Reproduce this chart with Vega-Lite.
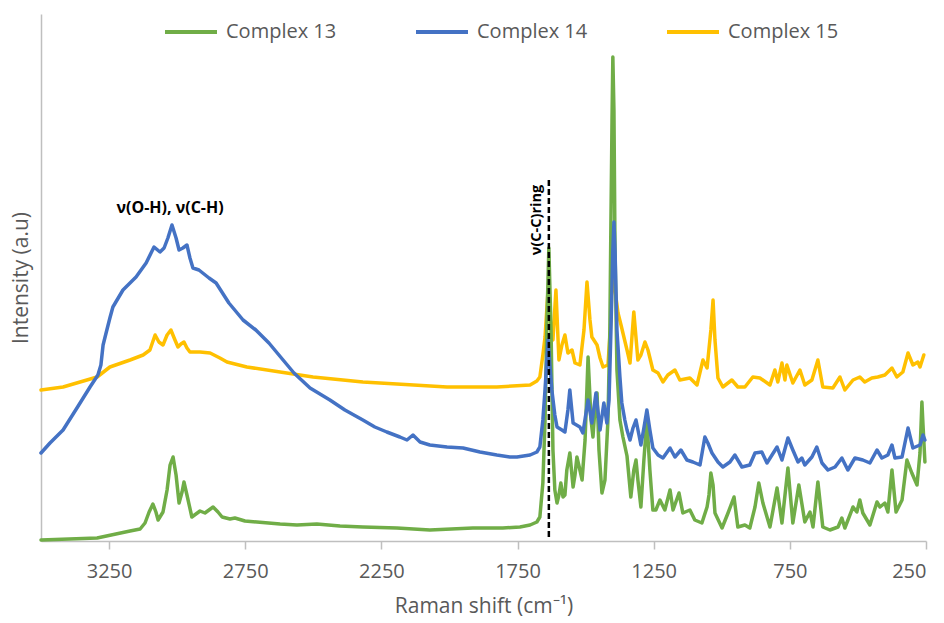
{
  "$schema": "https://vega.github.io/schema/vega-lite/v6.json",
  "width": 885,
  "height": 527,
  "autosize": {"type": "none"},
  "padding": {"left": 41, "top": 14, "right": 18, "bottom": 82},
  "background": "white",
  "config": {
    "view": {"stroke": null},
    "font": "Open Sans",
    "axis": {"labelFont": "Open Sans", "titleFont": "Open Sans", "grid": false},
    "legend": {"labelFont": "Open Sans"}
  },
  "datasets": {
    "c13": [
      {"shift": 3500, "intensity": 1}, {"shift": 3294, "intensity": 3}, {"shift": 3173, "intensity": 10},
      {"shift": 3136, "intensity": 12}, {"shift": 3118, "intensity": 18}, {"shift": 3103, "intensity": 29},
      {"shift": 3089, "intensity": 37}, {"shift": 3078, "intensity": 29}, {"shift": 3070, "intensity": 21},
      {"shift": 3052, "intensity": 29}, {"shift": 3037, "intensity": 51}, {"shift": 3026, "intensity": 76},
      {"shift": 3015, "intensity": 84}, {"shift": 3004, "intensity": 66}, {"shift": 2993, "intensity": 38},
      {"shift": 2982, "intensity": 49}, {"shift": 2975, "intensity": 59}, {"shift": 2964, "intensity": 46},
      {"shift": 2946, "intensity": 24}, {"shift": 2931, "intensity": 27}, {"shift": 2916, "intensity": 30},
      {"shift": 2898, "intensity": 28}, {"shift": 2883, "intensity": 31}, {"shift": 2868, "intensity": 34},
      {"shift": 2850, "intensity": 29}, {"shift": 2835, "intensity": 24}, {"shift": 2806, "intensity": 22},
      {"shift": 2788, "intensity": 23}, {"shift": 2751, "intensity": 20}, {"shift": 2707, "intensity": 19},
      {"shift": 2622, "intensity": 17}, {"shift": 2560, "intensity": 16}, {"shift": 2487, "intensity": 17},
      {"shift": 2402, "intensity": 15}, {"shift": 2318, "intensity": 14}, {"shift": 2193, "intensity": 13},
      {"shift": 2072, "intensity": 11}, {"shift": 1914, "intensity": 13}, {"shift": 1804, "intensity": 13},
      {"shift": 1741, "intensity": 14}, {"shift": 1704, "intensity": 16}, {"shift": 1679, "intensity": 19},
      {"shift": 1668, "intensity": 24}, {"shift": 1657, "intensity": 58}, {"shift": 1649, "intensity": 121},
      {"shift": 1642, "intensity": 221}, {"shift": 1635, "intensity": 293}, {"shift": 1627, "intensity": 211},
      {"shift": 1620, "intensity": 91}, {"shift": 1613, "intensity": 51}, {"shift": 1605, "intensity": 38},
      {"shift": 1598, "intensity": 46}, {"shift": 1591, "intensity": 58}, {"shift": 1583, "intensity": 44},
      {"shift": 1576, "intensity": 46}, {"shift": 1569, "intensity": 71}, {"shift": 1558, "intensity": 88},
      {"shift": 1546, "intensity": 54}, {"shift": 1539, "intensity": 66}, {"shift": 1532, "intensity": 84},
      {"shift": 1521, "intensity": 71}, {"shift": 1513, "intensity": 61}, {"shift": 1502, "intensity": 101},
      {"shift": 1491, "intensity": 184}, {"shift": 1480, "intensity": 121}, {"shift": 1473, "intensity": 104},
      {"shift": 1466, "intensity": 131}, {"shift": 1458, "intensity": 148}, {"shift": 1451, "intensity": 91},
      {"shift": 1440, "intensity": 48}, {"shift": 1429, "intensity": 61}, {"shift": 1418, "intensity": 121},
      {"shift": 1411, "intensity": 211}, {"shift": 1407, "intensity": 321}, {"shift": 1403, "intensity": 421},
      {"shift": 1400, "intensity": 484}, {"shift": 1396, "intensity": 431}, {"shift": 1392, "intensity": 291},
      {"shift": 1385, "intensity": 171}, {"shift": 1374, "intensity": 121}, {"shift": 1363, "intensity": 104},
      {"shift": 1348, "intensity": 85}, {"shift": 1334, "intensity": 44}, {"shift": 1323, "intensity": 71},
      {"shift": 1315, "intensity": 81}, {"shift": 1308, "intensity": 61}, {"shift": 1297, "intensity": 34},
      {"shift": 1286, "intensity": 81}, {"shift": 1275, "intensity": 121}, {"shift": 1264, "intensity": 71},
      {"shift": 1253, "intensity": 31}, {"shift": 1242, "intensity": 31}, {"shift": 1227, "intensity": 41},
      {"shift": 1209, "intensity": 31}, {"shift": 1190, "intensity": 51}, {"shift": 1179, "intensity": 31},
      {"shift": 1157, "intensity": 48}, {"shift": 1143, "intensity": 28}, {"shift": 1117, "intensity": 31},
      {"shift": 1099, "intensity": 21}, {"shift": 1073, "intensity": 18}, {"shift": 1054, "intensity": 34},
      {"shift": 1047, "intensity": 46}, {"shift": 1040, "intensity": 68}, {"shift": 1032, "intensity": 56},
      {"shift": 1025, "intensity": 28}, {"shift": 999, "intensity": 13}, {"shift": 977, "intensity": 28},
      {"shift": 955, "intensity": 44}, {"shift": 941, "intensity": 14}, {"shift": 915, "intensity": 16},
      {"shift": 897, "intensity": 13}, {"shift": 878, "intensity": 34}, {"shift": 864, "intensity": 58},
      {"shift": 849, "intensity": 38}, {"shift": 823, "intensity": 14}, {"shift": 797, "intensity": 53},
      {"shift": 779, "intensity": 18}, {"shift": 757, "intensity": 73}, {"shift": 739, "intensity": 18},
      {"shift": 717, "intensity": 56}, {"shift": 695, "intensity": 19}, {"shift": 676, "intensity": 29},
      {"shift": 665, "intensity": 14}, {"shift": 647, "intensity": 59}, {"shift": 629, "intensity": 14},
      {"shift": 603, "intensity": 11}, {"shift": 573, "intensity": 14}, {"shift": 559, "intensity": 23},
      {"shift": 548, "intensity": 13}, {"shift": 518, "intensity": 34}, {"shift": 504, "intensity": 29},
      {"shift": 493, "intensity": 41}, {"shift": 482, "intensity": 28}, {"shift": 456, "intensity": 16},
      {"shift": 430, "intensity": 39}, {"shift": 419, "intensity": 34}, {"shift": 401, "intensity": 38},
      {"shift": 390, "intensity": 29}, {"shift": 375, "intensity": 71}, {"shift": 360, "intensity": 29},
      {"shift": 338, "intensity": 41}, {"shift": 320, "intensity": 81}, {"shift": 302, "intensity": 68},
      {"shift": 283, "intensity": 56}, {"shift": 272, "intensity": 88}, {"shift": 265, "intensity": 139},
      {"shift": 261, "intensity": 116}, {"shift": 254, "intensity": 79}
    ],
    "c14": [
      {"shift": 3500, "intensity": 88}, {"shift": 3467, "intensity": 98}, {"shift": 3419, "intensity": 111},
      {"shift": 3368, "intensity": 133}, {"shift": 3320, "intensity": 154}, {"shift": 3291, "intensity": 166},
      {"shift": 3280, "intensity": 176}, {"shift": 3272, "intensity": 196}, {"shift": 3261, "intensity": 208},
      {"shift": 3247, "intensity": 223}, {"shift": 3236, "intensity": 234}, {"shift": 3199, "intensity": 251},
      {"shift": 3151, "intensity": 264}, {"shift": 3114, "intensity": 278}, {"shift": 3085, "intensity": 294},
      {"shift": 3063, "intensity": 289}, {"shift": 3048, "intensity": 293}, {"shift": 3034, "intensity": 303},
      {"shift": 3019, "intensity": 316}, {"shift": 3004, "intensity": 303}, {"shift": 2993, "intensity": 291},
      {"shift": 2979, "intensity": 293}, {"shift": 2964, "intensity": 296}, {"shift": 2953, "intensity": 283},
      {"shift": 2942, "intensity": 273}, {"shift": 2920, "intensity": 271}, {"shift": 2883, "intensity": 263},
      {"shift": 2857, "intensity": 258}, {"shift": 2810, "intensity": 238}, {"shift": 2758, "intensity": 221},
      {"shift": 2711, "intensity": 211}, {"shift": 2663, "intensity": 198}, {"shift": 2611, "intensity": 181},
      {"shift": 2571, "intensity": 168}, {"shift": 2512, "intensity": 153}, {"shift": 2439, "intensity": 141},
      {"shift": 2384, "intensity": 131}, {"shift": 2318, "intensity": 121}, {"shift": 2274, "intensity": 114},
      {"shift": 2230, "intensity": 109}, {"shift": 2182, "intensity": 104}, {"shift": 2156, "intensity": 101},
      {"shift": 2134, "intensity": 106}, {"shift": 2108, "intensity": 99}, {"shift": 2072, "intensity": 96},
      {"shift": 2009, "intensity": 94}, {"shift": 1950, "intensity": 93}, {"shift": 1888, "intensity": 89},
      {"shift": 1826, "intensity": 86}, {"shift": 1778, "intensity": 84}, {"shift": 1752, "intensity": 84},
      {"shift": 1704, "intensity": 86}, {"shift": 1679, "intensity": 89}, {"shift": 1668, "intensity": 94},
      {"shift": 1657, "intensity": 121}, {"shift": 1649, "intensity": 151}, {"shift": 1638, "intensity": 201},
      {"shift": 1631, "intensity": 176}, {"shift": 1624, "intensity": 151}, {"shift": 1613, "intensity": 126},
      {"shift": 1605, "intensity": 114}, {"shift": 1587, "intensity": 111}, {"shift": 1576, "intensity": 109},
      {"shift": 1565, "intensity": 131}, {"shift": 1558, "intensity": 151}, {"shift": 1546, "intensity": 118},
      {"shift": 1521, "intensity": 114}, {"shift": 1510, "intensity": 108}, {"shift": 1491, "intensity": 141},
      {"shift": 1477, "intensity": 118}, {"shift": 1462, "intensity": 148}, {"shift": 1447, "intensity": 111},
      {"shift": 1433, "intensity": 138}, {"shift": 1422, "intensity": 118}, {"shift": 1414, "intensity": 141},
      {"shift": 1407, "intensity": 211}, {"shift": 1400, "intensity": 291}, {"shift": 1396, "intensity": 319},
      {"shift": 1392, "intensity": 291}, {"shift": 1385, "intensity": 211}, {"shift": 1374, "intensity": 164},
      {"shift": 1367, "intensity": 138}, {"shift": 1356, "intensity": 121}, {"shift": 1348, "intensity": 111},
      {"shift": 1337, "intensity": 101}, {"shift": 1326, "intensity": 113}, {"shift": 1315, "intensity": 121},
      {"shift": 1304, "intensity": 106}, {"shift": 1297, "intensity": 96}, {"shift": 1286, "intensity": 113},
      {"shift": 1275, "intensity": 131}, {"shift": 1264, "intensity": 111}, {"shift": 1253, "intensity": 93},
      {"shift": 1234, "intensity": 86}, {"shift": 1216, "intensity": 83}, {"shift": 1190, "intensity": 93},
      {"shift": 1172, "intensity": 84}, {"shift": 1150, "intensity": 91}, {"shift": 1128, "intensity": 81},
      {"shift": 1106, "intensity": 79}, {"shift": 1080, "intensity": 76}, {"shift": 1062, "intensity": 104},
      {"shift": 1051, "intensity": 98}, {"shift": 1036, "intensity": 88}, {"shift": 1014, "intensity": 79},
      {"shift": 996, "intensity": 74}, {"shift": 970, "intensity": 79}, {"shift": 952, "intensity": 86},
      {"shift": 926, "intensity": 74}, {"shift": 897, "intensity": 76}, {"shift": 878, "intensity": 88},
      {"shift": 853, "intensity": 89}, {"shift": 834, "intensity": 78}, {"shift": 797, "intensity": 94},
      {"shift": 779, "intensity": 81}, {"shift": 757, "intensity": 103}, {"shift": 739, "intensity": 91},
      {"shift": 720, "intensity": 79}, {"shift": 706, "intensity": 83}, {"shift": 695, "intensity": 76},
      {"shift": 669, "intensity": 84}, {"shift": 651, "intensity": 94}, {"shift": 632, "intensity": 78},
      {"shift": 610, "intensity": 71}, {"shift": 584, "intensity": 74}, {"shift": 559, "intensity": 83},
      {"shift": 537, "intensity": 71}, {"shift": 511, "intensity": 83}, {"shift": 482, "intensity": 81},
      {"shift": 456, "intensity": 78}, {"shift": 430, "intensity": 91}, {"shift": 412, "intensity": 83},
      {"shift": 390, "intensity": 86}, {"shift": 375, "intensity": 96}, {"shift": 364, "intensity": 83},
      {"shift": 338, "intensity": 84}, {"shift": 316, "intensity": 113}, {"shift": 298, "intensity": 93},
      {"shift": 272, "intensity": 96}, {"shift": 261, "intensity": 106}, {"shift": 254, "intensity": 101}
    ],
    "c15": [
      {"shift": 3500, "intensity": 151}, {"shift": 3419, "intensity": 154}, {"shift": 3294, "intensity": 164},
      {"shift": 3247, "intensity": 174}, {"shift": 3173, "intensity": 181}, {"shift": 3125, "intensity": 186},
      {"shift": 3100, "intensity": 191}, {"shift": 3081, "intensity": 206}, {"shift": 3067, "intensity": 199},
      {"shift": 3052, "intensity": 196}, {"shift": 3037, "intensity": 206}, {"shift": 3023, "intensity": 211},
      {"shift": 3008, "intensity": 201}, {"shift": 2997, "intensity": 194}, {"shift": 2986, "intensity": 197},
      {"shift": 2975, "intensity": 199}, {"shift": 2964, "intensity": 193}, {"shift": 2953, "intensity": 189},
      {"shift": 2916, "intensity": 189}, {"shift": 2879, "intensity": 188}, {"shift": 2843, "intensity": 183},
      {"shift": 2817, "intensity": 179}, {"shift": 2744, "intensity": 174}, {"shift": 2622, "intensity": 169},
      {"shift": 2501, "intensity": 164}, {"shift": 2318, "intensity": 159}, {"shift": 2193, "intensity": 157},
      {"shift": 2009, "intensity": 154}, {"shift": 1826, "intensity": 154}, {"shift": 1704, "intensity": 156},
      {"shift": 1679, "intensity": 160}, {"shift": 1668, "intensity": 164}, {"shift": 1657, "intensity": 186},
      {"shift": 1649, "intensity": 204}, {"shift": 1638, "intensity": 251}, {"shift": 1627, "intensity": 211},
      {"shift": 1620, "intensity": 201}, {"shift": 1609, "intensity": 251}, {"shift": 1598, "intensity": 181},
      {"shift": 1587, "intensity": 196}, {"shift": 1576, "intensity": 206}, {"shift": 1565, "intensity": 188},
      {"shift": 1550, "intensity": 191}, {"shift": 1539, "intensity": 178}, {"shift": 1521, "intensity": 176},
      {"shift": 1506, "intensity": 211}, {"shift": 1495, "intensity": 259}, {"shift": 1484, "intensity": 221},
      {"shift": 1477, "intensity": 204}, {"shift": 1458, "intensity": 196}, {"shift": 1447, "intensity": 183},
      {"shift": 1436, "intensity": 174}, {"shift": 1418, "intensity": 176}, {"shift": 1407, "intensity": 221},
      {"shift": 1400, "intensity": 291}, {"shift": 1392, "intensity": 251}, {"shift": 1381, "intensity": 228},
      {"shift": 1370, "intensity": 216}, {"shift": 1363, "intensity": 208}, {"shift": 1348, "intensity": 191},
      {"shift": 1337, "intensity": 178}, {"shift": 1323, "intensity": 229}, {"shift": 1308, "intensity": 181},
      {"shift": 1297, "intensity": 186}, {"shift": 1282, "intensity": 199}, {"shift": 1271, "intensity": 191},
      {"shift": 1253, "intensity": 171}, {"shift": 1234, "intensity": 168}, {"shift": 1216, "intensity": 159},
      {"shift": 1198, "intensity": 166}, {"shift": 1172, "intensity": 171}, {"shift": 1154, "intensity": 161},
      {"shift": 1117, "intensity": 163}, {"shift": 1091, "intensity": 156}, {"shift": 1069, "intensity": 181},
      {"shift": 1054, "intensity": 173}, {"shift": 1040, "intensity": 211}, {"shift": 1032, "intensity": 241},
      {"shift": 1025, "intensity": 201}, {"shift": 1014, "intensity": 163}, {"shift": 996, "intensity": 154},
      {"shift": 963, "intensity": 161}, {"shift": 941, "intensity": 154}, {"shift": 915, "intensity": 154},
      {"shift": 886, "intensity": 164}, {"shift": 860, "intensity": 163}, {"shift": 823, "intensity": 156},
      {"shift": 805, "intensity": 171}, {"shift": 794, "intensity": 159}, {"shift": 779, "intensity": 178},
      {"shift": 768, "intensity": 161}, {"shift": 761, "intensity": 176}, {"shift": 739, "intensity": 158},
      {"shift": 713, "intensity": 171}, {"shift": 695, "intensity": 156}, {"shift": 669, "intensity": 161},
      {"shift": 647, "intensity": 181}, {"shift": 629, "intensity": 154}, {"shift": 592, "intensity": 153},
      {"shift": 566, "intensity": 164}, {"shift": 548, "intensity": 151}, {"shift": 518, "intensity": 161},
      {"shift": 493, "intensity": 164}, {"shift": 475, "intensity": 159}, {"shift": 449, "intensity": 163},
      {"shift": 427, "intensity": 164}, {"shift": 401, "intensity": 166}, {"shift": 375, "intensity": 173},
      {"shift": 357, "intensity": 164}, {"shift": 335, "intensity": 169}, {"shift": 316, "intensity": 188},
      {"shift": 298, "intensity": 176}, {"shift": 280, "intensity": 179}, {"shift": 272, "intensity": 174},
      {"shift": 258, "intensity": 186}
    ],
    "marker": [{"shift": 1635, "intensity": 361, "intensity2": 4}],
    "bandNote": [{"shift": 3026, "intensity": 333, "label": "ν(O-H), ν(C-H)"}],
    "ringNote": [{"shift": 1679, "intensity": 321, "label": "ν(C-C)ring"}]
  },
  "encoding": {
    "x": {
      "field": "shift",
      "type": "quantitative",
      "scale": {"domain": [250, 3500], "reverse": true, "nice": false, "zero": false},
      "axis": {
        "title": "Raman shift (cm⁻¹)",
        "values": [3250, 2750, 2250, 1750, 1250, 750, 250],
        "format": "d",
        "domainColor": "#BFBFBF",
        "domainWidth": 1.5,
        "tickColor": "#BFBFBF",
        "tickWidth": 1.5,
        "tickSize": 8,
        "labelFontSize": 20,
        "labelColor": "#595959",
        "labelPadding": 12,
        "titleFontSize": 21,
        "titleFontWeight": "normal",
        "titleColor": "#595959",
        "titlePadding": 14
      }
    },
    "y": {
      "field": "intensity",
      "type": "quantitative",
      "scale": {"domain": [0, 527], "nice": false},
      "axis": {
        "title": "Intensity (a.u)",
        "labels": false,
        "ticks": false,
        "domainColor": "#BFBFBF",
        "domainWidth": 1.5,
        "titleFontSize": 21,
        "titleFontWeight": "normal",
        "titleColor": "#595959",
        "titlePadding": 10
      }
    }
  },
  "layer": [
    {
      "data": {"name": "c15"},
      "mark": {"type": "line", "strokeWidth": 3.5, "strokeJoin": "round", "strokeCap": "round"},
      "encoding": {
        "color": {
          "datum": "Complex 15",
          "type": "nominal",
          "scale": {"domain": ["Complex 13", "Complex 14", "Complex 15"], "range": ["#70AD47", "#4472C4", "#FFC000"]},
          "legend": {
            "title": null,
            "orient": "none",
            "legendX": 122,
            "legendY": -10,
            "direction": "horizontal",
            "symbolType": "stroke",
            "symbolSize": 2704,
            "symbolStrokeWidth": 4,
            "labelFontSize": 20,
            "labelColor": "#595959",
            "labelOffset": 7,
            "columnPadding": 71,
            "padding": 0
          }
        }
      }
    },
    {
      "data": {"name": "c13"},
      "mark": {"type": "line", "strokeWidth": 3.5, "strokeJoin": "round", "strokeCap": "round"},
      "encoding": {"color": {"datum": "Complex 13", "type": "nominal"}}
    },
    {
      "data": {"name": "c14"},
      "mark": {"type": "line", "strokeWidth": 3.5, "strokeJoin": "round", "strokeCap": "round"},
      "encoding": {"color": {"datum": "Complex 14", "type": "nominal"}}
    },
    {
      "data": {"name": "marker"},
      "mark": {"type": "rule", "color": "black", "strokeWidth": 2.5, "strokeDash": [6, 3]},
      "encoding": {"y2": {"field": "intensity2"}}
    },
    {
      "data": {"name": "bandNote"},
      "mark": {"type": "text", "font": "Open Sans", "fontSize": 16, "fontWeight": "bold", "color": "black", "align": "center", "baseline": "middle"},
      "encoding": {"text": {"field": "label"}}
    },
    {
      "data": {"name": "ringNote"},
      "mark": {"type": "text", "font": "Open Sans", "fontSize": 14.5, "fontWeight": "bold", "color": "black", "align": "center", "baseline": "middle", "angle": 270},
      "encoding": {"text": {"field": "label"}}
    }
  ]
}
